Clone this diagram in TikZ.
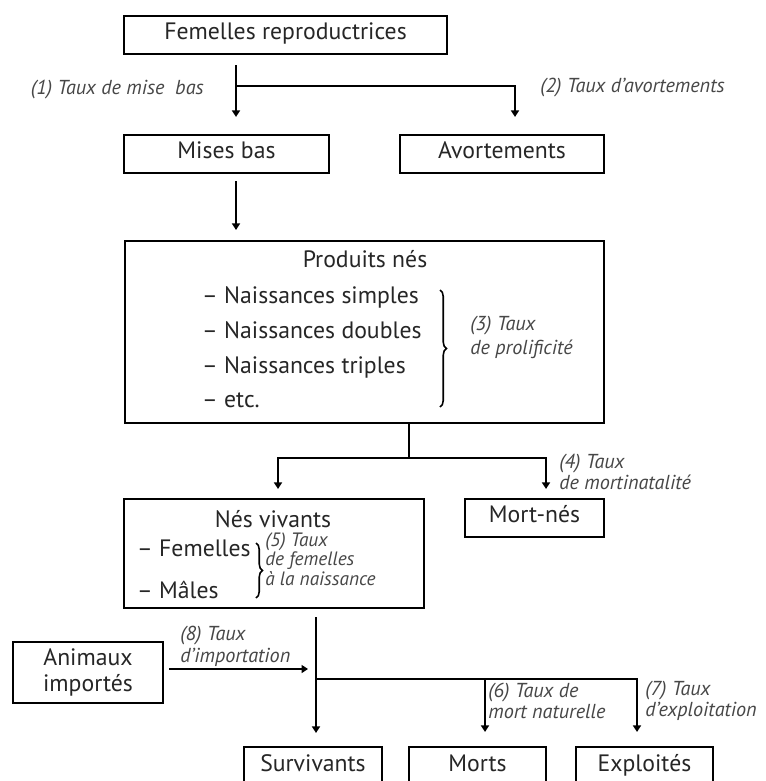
\documentclass[tikz,border=0pt]{standalone}
\usepackage{fontspec}
\setmainfont{PT Sans}
\usepackage{tikz}
\usetikzlibrary{positioning, arrows.meta, calc, decorations.pathreplacing}

\begin{document}
\begin{tikzpicture}[
  x=0.02cm, y=-0.02cm,
  font=\fontsize{13.5}{16}\selectfont,
  boite/.style={draw, line width=1.2pt, inner sep=0pt, text=black!85, align=center},
  ligne/.style={boite, text height=0.72em, text depth=0.22em},
  taux/.style={text=black!72, align=left, inner sep=0pt},
  fl/.style={-{Triangle[width=0.16cm, length=0.13cm]}, line width=1pt},
  lien/.style={line width=1pt},
  acc/.style={decorate, decoration={brace, amplitude=0.13cm}, line width=0.9pt},
  >=Stealth
]
\useasboundingbox (0,0) rectangle (766,781);
\fill[white] (0,0) rectangle (766,781);

% Femelles -> mises bas / avortements
\node[ligne, minimum width=6.46cm, minimum height=0.76cm] (fem) at (285.5,35) {Femelles reproductrices};
\node[ligne, minimum width=4.1cm, minimum height=0.76cm] (mise) at (226.5,154) {Mises bas};
\node[ligne, minimum width=4.08cm, minimum height=0.76cm] (avort) at (502,154) {Avortements};
\node[taux, anchor=east, font=\fontsize{11.5}{12}\selectfont\itshape] (t1) at (204,90) {(1) Taux de mise~~bas};
\node[taux, anchor=west, font=\fontsize{11.5}{12}\selectfont\itshape] (t2) at (540,88) {(2) Taux d’avortements};

\coordinate (j1) at (236,86);
\coordinate (c2) at (515,86);
\draw[fl, shorten <=0.2cm, shorten >=0.34cm] (fem.south -| j1) -- (mise.north -| j1);
\draw[fl, shorten >=0.34cm] (j1) -- (c2) -- (avort.north -| c2);

% Produits nes
\node[boite, minimum width=9.58cm, minimum height=3.64cm] (prod) at (364.5,332) {};
\node[text=black!85] (prodT) at (365,259) {Produits nés};
\node[anchor=west, align=left, text=black!85, font=\fontsize{13.5}{19.8}\selectfont] (prodL) at (196,347.5)
  {– Naissances simples\\– Naissances doubles\\– Naissances triples\\– etc.};
\draw[acc] (440,290) -- (440,407);
\node[taux, anchor=west, font=\fontsize{11.5}{13.6}\selectfont\itshape] (t3) at (470,337) {(3) Taux\\de prolificité};
\draw[fl, shorten <=0.14cm, shorten >=0.2cm] (mise.south -| j1) -- (prod.north -| j1);

% Nes vivants / mort-nes
\node[boite, minimum width=6cm, minimum height=2.18cm] (nesviv) at (274,553.5) {};
\node[text=black!85] (nesvivT) at (273,519) {Nés vivants};
\node[anchor=west, align=left, text=black!85, font=\fontsize{13.5}{23.8}\selectfont] (nesvivL) at (131,569)
  {– Femelles\\– Mâles};
\draw[acc] (256,543) -- (256,598);
\node[taux, anchor=west, font=\fontsize{11}{10}\selectfont\itshape] (t5) at (265,559) {(5) Taux\\de femelles\\à la naissance};
\node[ligne, minimum width=2.78cm, minimum height=0.76cm] (mortnes) at (534.5,518) {Mort-nés};
\node[taux, anchor=west, font=\fontsize{11.5}{11.5}\selectfont\itshape] (t4) at (559,472) {(4) Taux\\de mortinatalité};

\coordinate (j3) at (409,458);
\coordinate (c4) at (278,458);
\coordinate (c5) at (546,458);
\draw[lien] (prod.south -| j3) -- (j3);
\draw[fl, shorten >=0.18cm] (j3) -- (c4) -- (nesviv.north -| c4);
\draw[fl, shorten >=0.18cm] (j3) -- (c5) -- (mortnes.north -| c5);

% Animaux importes et devenir
\node[boite, minimum width=3cm, minimum height=1.22cm, font=\fontsize{13.5}{14.5}\selectfont] (anim) at (88,672.5) {Animaux\\importés};
\node[taux, anchor=west, font=\fontsize{11.5}{12.5}\selectfont\itshape] (t8) at (180,646) {(8) Taux\\d’importation};
\node[ligne, minimum width=2.76cm, minimum height=0.8cm] (surv) at (313,767) {Survivants};
\node[ligne, minimum width=2.74cm, minimum height=0.8cm] (morts) at (477.5,767) {Morts};
\node[ligne, minimum width=2.74cm, minimum height=0.8cm] (expl) at (644.5,767) {Exploités};
\node[taux, anchor=west, font=\fontsize{11.5}{10.5}\selectfont\itshape] (t6) at (488,701) {(6) Taux de\\mort naturelle};
\node[taux, anchor=west, font=\fontsize{11.5}{10.5}\selectfont\itshape] (t7) at (645,701) {(7) Taux\\d’exploitation};

\coordinate (j4) at (316,679);
\coordinate (c6) at (485,679);
\coordinate (c7) at (637,679);
\coordinate (imp) at (316,669);
\draw[fl, shorten <=0.16cm, shorten >=0.26cm] (nesviv.south -| j4) -- (surv.north -| j4);
\draw[fl, shorten >=0.28cm] (j4) -- (c6) -- (morts.north -| c6);
\draw[fl, shorten >=0.28cm] (c6) -- (c7) -- (expl.north -| c7);
\draw[fl, shorten <=0.1cm, shorten >=0.16cm] (anim.east |- imp) -- (imp);

\end{tikzpicture}
\end{document}
